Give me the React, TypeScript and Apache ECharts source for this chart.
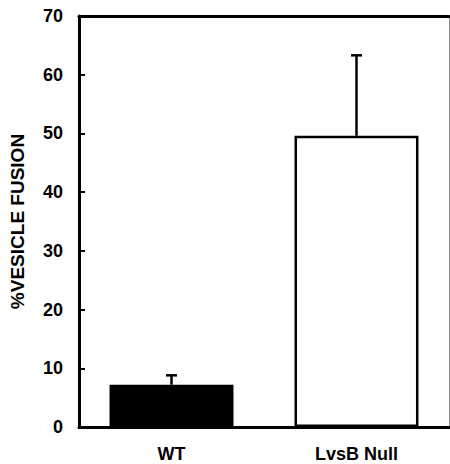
import React, { useEffect, useRef } from "react";
import * as echarts from "echarts";

const categories = ["WT", "LvsB Null"];
const means = [7.2, 49.6];
const errors = [1.6, 13.7];
const barColors = ["#000000", "#ffffff"];
const yMin = 0;
const yMax = 70;
const yInterval = 10;
const yName = "%VESICLE FUSION";

export default function App() {
  const ref = useRef<HTMLDivElement>(null);
  useEffect(() => {
    if (!ref.current) return;
    const chart = echarts.init(ref.current, null, { renderer: "svg" });
    const font = "'Liberation Sans', Arial, sans-serif";
    chart.setOption({
      animation: false,
      backgroundColor: "#ffffff",
      grid: { left: 79, right: 1, top: 16, bottom: 37, containLabel: false },
      xAxis: [
        {
          type: "category",
          data: categories,
          position: "bottom",
          axisLine: { show: true, onZero: false, lineStyle: { color: "#000", width: 3 } },
          axisTick: { show: false },
          axisLabel: { color: "#000", fontWeight: "bold", fontSize: 18, fontFamily: font, margin: 18 },
        },
        {
          type: "category",
          data: categories,
          position: "top",
          axisLine: { show: true, onZero: false, lineStyle: { color: "#000", width: 3 } },
          axisTick: { show: false },
          axisLabel: { show: false },
        },
      ],
      yAxis: [
        {
          type: "value",
          min: yMin,
          max: yMax,
          interval: yInterval,
          position: "left",
          name: yName,
          nameLocation: "middle",
          nameGap: 52,
          nameRotate: 90,
          nameTextStyle: { color: "#000", fontWeight: "bold", fontSize: 19, fontFamily: font },
          axisLine: { show: true, onZero: false, lineStyle: { color: "#000", width: 3 } },
          axisTick: { show: true, inside: true, length: 6, lineStyle: { color: "#000", width: 2 } },
          axisLabel: { color: "#000", fontWeight: "bold", fontSize: 18, fontFamily: font, margin: 16 },
          splitLine: { show: false },
        },
        {
          type: "value",
          min: yMin,
          max: yMax,
          interval: yInterval,
          position: "right",
          axisLine: { show: true, onZero: false, lineStyle: { color: "#888", width: 1 } },
          axisTick: { show: false },
          axisLabel: { show: false },
          splitLine: { show: false },
        },
      ],
      series: [
        {
          type: "bar",
          xAxisIndex: 0,
          yAxisIndex: 0,
          barWidth: "67%",
          data: means.map((v, i) => ({
            value: v,
            itemStyle: { color: barColors[i], borderColor: "#000", borderWidth: 2.5 },
          })),
        },
        {
          type: "custom",
          xAxisIndex: 0,
          yAxisIndex: 0,
          z: 3,
          data: means.map((v, i) => [i, v, errors[i]]),
          renderItem: (params: any, api: any) => {
            const idx = api.value(0);
            const base = api.coord([idx, api.value(1)]);
            const top = api.coord([idx, api.value(1) + api.value(2)]);
            const style = { stroke: "#000", lineWidth: 2.5 };
            return {
              type: "group",
              children: [
                { type: "line", shape: { x1: top[0], y1: base[1], x2: top[0], y2: top[1] }, style },
                { type: "line", shape: { x1: top[0] - 5.5, y1: top[1], x2: top[0] + 5.5, y2: top[1] }, style },
              ],
            };
          },
        },
      ],
    });
    return () => chart.dispose();
  }, []);
  return (
    <div ref={ref} style={{ position: "fixed", left: 0, top: 0, width: 450, height: 464, background: "#fff" }} />
  );
}
